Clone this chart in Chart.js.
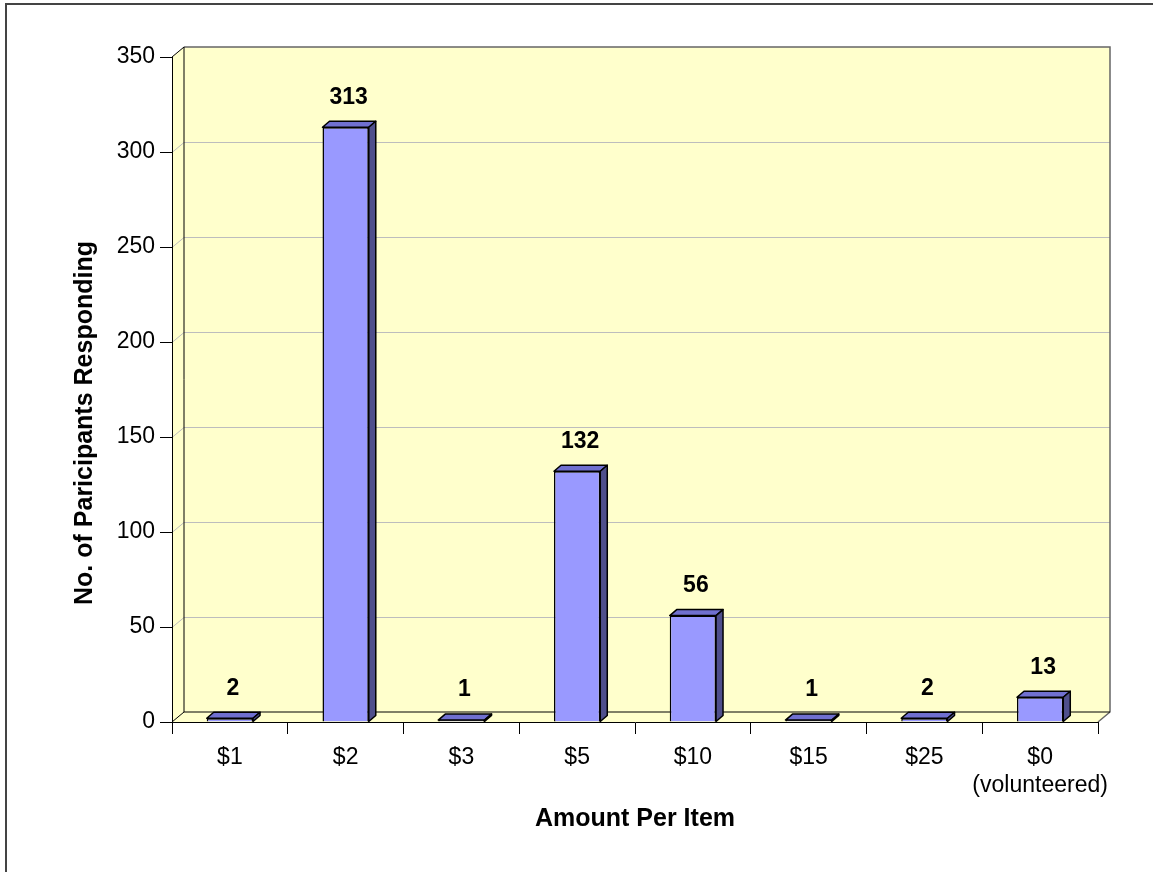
<!DOCTYPE html>
<html>
<head>
<meta charset="utf-8">
<script src="https://cdn.jsdelivr.net/npm/chart.js@4.4.1/dist/chart.umd.min.js"></script>
<style>
  html, body { margin: 0; padding: 0; background: #fff; }
  #wrap { width: 1153px; height: 872px; }
</style>
</head>
<body>
<div id="wrap"><canvas id="amountChart" width="1153" height="872"></canvas></div>
<script>
// Data
const categories = ["$1", "$2", "$3", "$5", "$10", "$15", "$25", ["$0", "(volunteered)"]];
const responses = [2, 313, 1, 132, 56, 1, 2, 13];
const yTicks = [0, 50, 100, 150, 200, 250, 300, 350];

const FONT = "'Liberation Sans', Arial, sans-serif";
const WALL_DX = 12, WALL_DY = -10;   // depth of back wall
const BAR_DX = 7, BAR_DY = -6;       // depth of each bar

// walls, floor and gridlines drawn behind everything
const wallsPlugin = {
    id: 'walls',
    beforeDraw(chart) {
        const { ctx, chartArea: a, scales: { y } } = chart;
        ctx.save();
        ctx.fillStyle = '#fff';
        ctx.fillRect(0, 0, chart.width, chart.height);

        // outer frame (left and top only visible)
        ctx.strokeStyle = '#444';
        ctx.lineWidth = 2;
        ctx.beginPath();
        ctx.moveTo(6, 872); ctx.lineTo(6, 4); ctx.lineTo(1153, 4);
        ctx.stroke();

        ctx.fillStyle = '#FFFFCC';
        // back wall
        ctx.fillRect(a.left + WALL_DX, a.top + WALL_DY, a.right - a.left, a.bottom - a.top);
        // side wall
        ctx.beginPath();
        ctx.moveTo(a.left, a.top); ctx.lineTo(a.left + WALL_DX, a.top + WALL_DY);
        ctx.lineTo(a.left + WALL_DX, a.bottom + WALL_DY); ctx.lineTo(a.left, a.bottom);
        ctx.closePath(); ctx.fill();
        // floor
        ctx.beginPath();
        ctx.moveTo(a.left, a.bottom); ctx.lineTo(a.right, a.bottom);
        ctx.lineTo(a.right + WALL_DX, a.bottom + WALL_DY); ctx.lineTo(a.left + WALL_DX, a.bottom + WALL_DY);
        ctx.closePath(); ctx.fill();

        // gridlines
        ctx.strokeStyle = '#BDBDBD';
        ctx.lineWidth = 1;
        yTicks.forEach(v => {
            if (v === 0 || v === 350) return;
            const py = Math.round(y.getPixelForValue(v)) + 0.5;
            ctx.beginPath();
            ctx.moveTo(a.left, py);
            ctx.lineTo(a.left + WALL_DX, py + WALL_DY);
            ctx.lineTo(a.right + WALL_DX, py + WALL_DY);
            ctx.stroke();
        });

        // wall edges
        ctx.strokeStyle = '#666';
        ctx.lineWidth = 1.5;
        ctx.beginPath();
        ctx.moveTo(a.left + WALL_DX, a.top + WALL_DY);
        ctx.lineTo(a.right + WALL_DX, a.top + WALL_DY);
        ctx.lineTo(a.right + WALL_DX, a.bottom + WALL_DY);
        ctx.lineTo(a.right, a.bottom);
        ctx.stroke();

        ctx.strokeStyle = '#000';
        ctx.lineWidth = 1;
        ctx.beginPath();
        ctx.moveTo(a.left, a.top); ctx.lineTo(a.left + WALL_DX, a.top + WALL_DY);
        ctx.lineTo(a.left + WALL_DX, a.bottom + WALL_DY);
        ctx.lineTo(a.right + WALL_DX, a.bottom + WALL_DY);
        ctx.moveTo(a.left, a.bottom); ctx.lineTo(a.left + WALL_DX, a.bottom + WALL_DY);
        ctx.stroke();

        // y axis title
        ctx.fillStyle = '#000';
        ctx.font = 'bold 25px ' + FONT;
        ctx.translate(85, 423);
        ctx.rotate(-Math.PI / 2);
        ctx.textAlign = 'center';
        ctx.textBaseline = 'middle';
        ctx.fillText('No. of Paricipants Responding', 0, 0);
        ctx.restore();
    }
};

// top and side faces of bars, plus value labels
const barsPlugin = {
    id: 'bars3d',
    afterDatasetsDraw(chart) {
        const { ctx } = chart;
        const meta = chart.getDatasetMeta(0);
        ctx.save();
        ctx.strokeStyle = '#000';
        ctx.lineWidth = 1.5;
        ctx.lineJoin = 'round';
        meta.data.forEach((bar, i) => {
            const l = bar.x - bar.width / 2, r = bar.x + bar.width / 2;
            const t = bar.y, b = bar.base;
            // top
            ctx.fillStyle = '#7070D0';
            ctx.beginPath();
            ctx.moveTo(l, t); ctx.lineTo(l + BAR_DX, t + BAR_DY);
            ctx.lineTo(r + BAR_DX, t + BAR_DY); ctx.lineTo(r, t);
            ctx.closePath(); ctx.fill(); ctx.stroke();
            // side
            ctx.fillStyle = '#4F4F8C';
            ctx.beginPath();
            ctx.moveTo(r, t); ctx.lineTo(r + BAR_DX, t + BAR_DY);
            ctx.lineTo(r + BAR_DX, b + BAR_DY); ctx.lineTo(r, b);
            ctx.closePath(); ctx.fill(); ctx.stroke();
            // label
            ctx.fillStyle = '#000';
            ctx.font = 'bold 23px ' + FONT;
            ctx.textAlign = 'center';
            ctx.textBaseline = 'middle';
            ctx.fillText(String(responses[i]), bar.x + 3, t - 30);
        });
        ctx.restore();
    }
};

new Chart(document.getElementById('amountChart'), {
    type: 'bar',
    data: {
        labels: categories,
        datasets: [{
            data: responses,
            backgroundColor: '#9999FF',
            borderColor: '#000',
            borderWidth: 1.5,
            barPercentage: 0.4,
            categoryPercentage: 1.0
        }]
    },
    options: {
        responsive: false,
        animation: false,
        devicePixelRatio: 1,
        layout: { padding: { left: 0, top: 57, right: 55, bottom: 0 } },
        plugins: { legend: { display: false }, tooltip: { enabled: false } },
        scales: {
            x: {
                afterFit: s => { s.height = 150; },
                grid: { drawOnChartArea: false, drawTicks: true, tickLength: 12, color: '#000' },
                border: { display: true, color: '#000', width: 1 },
                ticks: { color: '#000', font: { family: FONT, size: 23 }, padding: 10, maxRotation: 0, autoSkip: false },
                title: {
                    display: true,
                    text: 'Amount Per Item',
                    color: '#000',
                    font: { family: FONT, size: 25, weight: 'bold' },
                    padding: { top: 0, bottom: 38 }
                }
            },
            y: {
                min: 0,
                max: 350,
                afterFit: s => { s.width = 172; },
                afterBuildTicks: s => { s.ticks = yTicks.map(v => ({ value: v })); },
                grid: { drawOnChartArea: false, drawTicks: true, tickLength: 12, color: '#000' },
                border: { display: true, color: '#000', width: 1 },
                ticks: { color: '#000', font: { family: FONT, size: 23 }, padding: 5 }
            }
        }
    },
    plugins: [wallsPlugin, barsPlugin]
});
</script>
</body>
</html>
